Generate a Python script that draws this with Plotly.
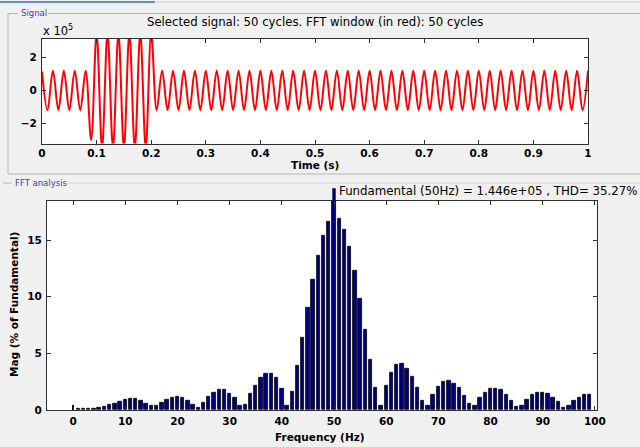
import plotly.graph_objects as go

# ---------------- data ----------------
# Signal: extrema of each half cycle (units of 1e5), sampled at t = 0, 0.01, ..., 1.00 s
signal_extrema = [1.15, -1.2, 1.2, -1.2, 1.2, -1.2, 1.2, -1.2, 1.2, -3.0,
                  3.5, -3.5, 3.5, -3.5, 3.5, -3.5, 3.5, -3.5, 3.5, -3.5,
                  3.5, -1.2, 1.2, -1.2, 1.2, -1.2, 1.2, -1.2, 1.2, -1.2,
                  1.2, -1.2, 1.2, -1.2, 1.2, -1.2, 1.2, -1.2, 1.2, -1.2,
                  1.2, -1.2, 1.2, -1.2, 1.2, -1.2, 1.2, -1.2, 1.2, -1.2,
                  1.2, -1.2, 1.2, -1.2, 1.2, -1.2, 1.2, -1.2, 1.2, -1.2,
                  1.2, -1.2, 1.2, -1.2, 1.2, -1.2, 1.2, -1.2, 1.2, -1.2,
                  1.2, -1.2, 1.2, -1.2, 1.2, -1.2, 1.2, -1.2, 1.2, -1.2,
                  1.2, -1.2, 1.2, -1.2, 1.2, -1.2, 1.2, -1.2, 1.2, -1.2,
                  1.2, -1.2, 1.2, -1.2, 1.2, -1.2, 1.2, -1.2, 1.2, -1.2,
                  1.2]
signal_times = [round(k * 0.01, 2) for k in range(len(signal_extrema))]

# FFT: harmonic magnitudes (% of fundamental) for 1..99 Hz
harmonic_freqs = list(range(1, 100))
harmonic_mag = [0.09, 0.15, 0.15, 0.15, 0.24, 0.32, 0.44, 0.53, 0.74, 0.94,
                1.00, 1.00, 0.79, 0.59, 0.38, 0.38, 0.65, 0.91, 1.09, 1.15,
                1.06, 0.79, 0.47, 0.24, 0.65, 1.15, 1.56, 1.76, 1.76, 1.47,
                1.09, 0.38, 0.50, 1.44, 2.18, 2.88, 3.24, 3.24, 2.82, 1.85,
                0.38, 1.65, 3.88, 6.41, 9.03, 11.47, 13.65, 15.41, 16.62, 100.0,
                16.90, 15.90, 14.38, 12.26, 9.79, 7.12, 4.47, 1.94, 0.41, 2.15,
                3.32, 3.97, 4.09, 3.68, 2.97, 1.94, 0.79, 0.38, 1.38, 2.06,
                2.50, 2.56, 2.35, 1.94, 1.24, 0.53, 0.38, 1.09, 1.56, 1.85,
                1.91, 1.76, 1.38, 0.85, 0.32, 0.38, 0.94, 1.32, 1.50, 1.56,
                1.44, 1.09, 0.74, 0.24, 0.38, 0.79, 1.09, 1.32, 1.32]
dc_freq = [0]
dc_mag = [0.5]

time_ticks = [0, 0.1, 0.2, 0.3, 0.4, 0.5, 0.6, 0.7, 0.8, 0.9, 1]
time_tick_labels = ["0", "0.1", "0.2", "0.3", "0.4", "0.5", "0.6", "0.7", "0.8", "0.9", "1"]
sig_ticks = [-2, 0, 2]
freq_ticks = [0, 10, 20, 30, 40, 50, 60, 70, 80, 90, 100]
mag_ticks = [0, 5, 10, 15]

title_text = "Selected signal: 50 cycles. FFT window (in red): 50 cycles"
fft_text = "Fundamental (50Hz) = 1.446e+05 , THD= 35.27%"

# ---------------- layout helpers ----------------
W, H = 640, 447
def PX(x):
    return x / W
def PY(y):
    return 1 - y / H

FONT = "DejaVu Sans"
AX = "#303030"

fig = go.Figure()

fig.add_trace(go.Scatter(
    x=signal_times, y=signal_extrema, mode="lines",
    line=dict(color="#ff0000", width=2, shape="spline", smoothing=1.0),
    xaxis="x", yaxis="y", showlegend=False, hoverinfo="skip"))

fig.add_trace(go.Bar(
    x=harmonic_freqs, y=harmonic_mag, width=0.65,
    marker=dict(color="#000080", line=dict(color="#000000", width=0.8)),
    xaxis="x2", yaxis="y2", showlegend=False))

fig.add_trace(go.Bar(
    x=dc_freq, y=dc_mag, width=0.18,
    marker=dict(color="#000000", line=dict(width=0)),
    xaxis="x2", yaxis="y2", showlegend=False))

axis_common = dict(showline=True, linecolor=AX, linewidth=1, mirror="ticks",
                   ticks="inside", ticklen=4, tickcolor=AX, showgrid=False,
                   zeroline=False, automargin=False,
                   tickfont=dict(family=FONT, size=10.5, color="#000000", weight="bold"))

fig.update_layout(
    template="none",
    width=W, height=H, margin=dict(l=0, r=0, t=0, b=0, pad=0),
    paper_bgcolor="#f0f0f0", plot_bgcolor="#ffffff", bargap=0,
    xaxis=dict(domain=[PX(42), PX(588)], anchor="y", range=[0, 1], ticklabelstandoff=0,
               tickvals=time_ticks, ticktext=time_tick_labels, **axis_common),
    yaxis=dict(domain=[PY(143.5), PY(39)], anchor="x", range=[-3.22, 3.13], ticklabelstandoff=2,
               tickvals=sig_ticks, **axis_common),
    xaxis2=dict(domain=[PX(47), PX(596.5)], anchor="y2", range=[-5, 100.3], ticklabelstandoff=1,
                tickvals=freq_ticks, **axis_common),
    yaxis2=dict(domain=[PY(410), PY(200.7)], anchor="x2", range=[0, 18.47], ticklabelstandoff=2,
                tickvals=mag_ticks, **axis_common),
)

ann = []
ann.append(dict(text=title_text, x=PX(315), y=PY(22), xref="paper", yref="paper",
                xanchor="center", yanchor="middle", showarrow=False,
                font=dict(family=FONT, size=11.7, color="#000000")))
ann.append(dict(text="x 10<sup>5</sup>", x=PX(41), y=PY(30), xref="paper", yref="paper",
                xanchor="left", yanchor="middle", showarrow=False,
                font=dict(family=FONT, size=11.5, color="#000000")))
ann.append(dict(text="Time (s)", x=PX(315), y=PY(164.5), xref="paper", yref="paper",
                xanchor="center", yanchor="middle", showarrow=False,
                font=dict(family=FONT, size=10.5, color="#000000", weight="bold")))
ann.append(dict(text=fft_text, x=PX(337), y=PY(191), xref="paper", yref="paper",
                xanchor="left", yanchor="middle", showarrow=False,
                font=dict(family=FONT, size=11.8, color="#000000")))
ann.append(dict(text="Mag (% of Fundamental)", x=PX(14), y=PY(305), xref="paper", yref="paper",
                xanchor="center", yanchor="middle", showarrow=False, textangle=-90,
                font=dict(family=FONT, size=10.5, color="#000000", weight="bold")))
ann.append(dict(text="Frequency (Hz)", x=PX(320), y=PY(437), xref="paper", yref="paper",
                xanchor="center", yanchor="middle", showarrow=False,
                font=dict(family=FONT, size=10.5, color="#000000", weight="bold")))
ann.append(dict(text="Signal", x=PX(19), y=PY(13), xref="paper", yref="paper",
                xanchor="left", yanchor="middle", showarrow=False,
                font=dict(family=FONT, size=8.5, color="#3a3ac0")))
ann.append(dict(text="FFT analysis", x=PX(13), y=PY(183), xref="paper", yref="paper",
                xanchor="left", yanchor="middle", showarrow=False,
                font=dict(family=FONT, size=8.5, color="#3a3ac0")))
fig.update_layout(annotations=ann)

GRAY = "#b4b4b4"
shapes = [
    dict(type="line", xref="paper", yref="paper", x0=PX(0), x1=PX(155), y0=PY(2), y1=PY(2),
         line=dict(color="#5b8fd6", width=2)),
    dict(type="line", xref="paper", yref="paper", x0=PX(155), x1=PX(640), y0=PY(2), y1=PY(2),
         line=dict(color="#d0d0d0", width=1)),
    dict(type="line", xref="paper", yref="paper", x0=PX(8), x1=PX(8), y0=PY(13.5), y1=PY(174),
         line=dict(color=GRAY, width=1)),
    dict(type="line", xref="paper", yref="paper", x0=PX(8), x1=PX(18), y0=PY(13.5), y1=PY(13.5),
         line=dict(color=GRAY, width=1)),
    dict(type="line", xref="paper", yref="paper", x0=PX(48), x1=PX(640), y0=PY(13.5), y1=PY(13.5),
         line=dict(color=GRAY, width=1)),
    dict(type="line", xref="paper", yref="paper", x0=PX(8), x1=PX(640), y0=PY(174), y1=PY(174),
         line=dict(color=GRAY, width=1)),
    dict(type="line", xref="paper", yref="paper", x0=PX(3), x1=PX(12), y0=PY(183), y1=PY(183),
         line=dict(color=GRAY, width=1)),
    dict(type="line", xref="paper", yref="paper", x0=PX(66), x1=PX(640), y0=PY(183), y1=PY(183),
         line=dict(color="#d4d4d4", width=1)),
    dict(type="line", xref="x2", yref="y2 domain", x0=50, x1=50, y0=1, y1=1 + 12.5 / 209.3,
         line=dict(color="#000060", width=3.4)),
]
fig.update_layout(shapes=shapes)

fig.write_html("out.html",
               config={"displayModeBar": False},
               post_script="document.documentElement.style.margin='0';"
                           "document.body.style.margin='0';"
                           "document.body.style.overflow='hidden';"
                           "document.body.style.background='#f0f0f0';")
